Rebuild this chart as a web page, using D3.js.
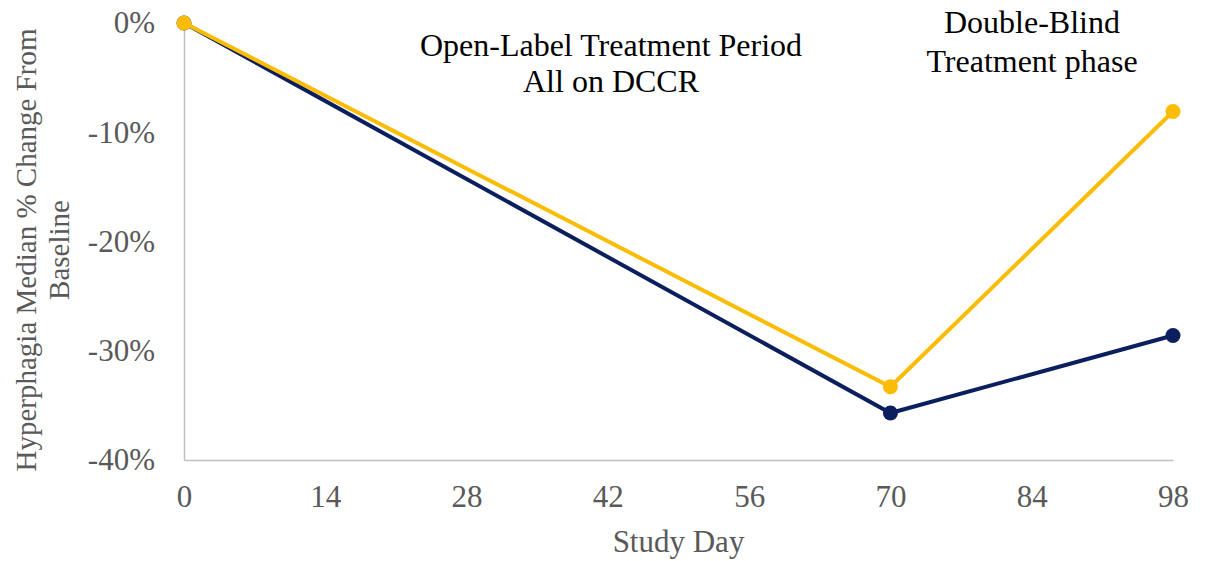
<!DOCTYPE html>
<html>
<head>
<meta charset="utf-8">
<script src="https://cdn.jsdelivr.net/npm/d3@7"></script>
<style>
  body { margin: 0; background: #fff; }
  text { font-family: "Liberation Serif", "Times New Roman", serif; }
</style>
</head>
<body>
<div id="chart"></div>
<script>
// data
const studyDays = [0, 70, 98];
const dccrValues = [0, -35.7, -28.6];      // navy line
const placeboValues = [0, -33.3, -8.1];    // orange line
const xTicks = [0, 14, 28, 42, 56, 70, 84, 98];
const yTicks = [0, -10, -20, -30, -40];

const width = 1205, height = 561;
const margin = {top: 23, right: 32, bottom: 101, left: 184};

const svg = d3.select('#chart').append('svg')
    .attr('width', width)
    .attr('height', height);

const x = d3.scaleLinear()
    .domain([0, 98])
    .range([margin.left, width - margin.right]);

const y = d3.scaleLinear()
    .domain([-40, 0])
    .range([height - margin.bottom, margin.top]);

// axes
const xAxis = svg.append('g')
    .attr('transform', 'translate(0,' + y(-40) + ')')
    .call(d3.axisBottom(x).tickValues(xTicks).tickSize(0).tickPadding(25));

const yAxis = svg.append('g')
    .attr('transform', 'translate(' + x(0) + ',0)')
    .call(d3.axisLeft(y).tickValues(yTicks).tickSize(0).tickPadding(29)
        .tickFormat(d => d + '%'));

[xAxis, yAxis].forEach(g => {
    g.select('.domain').attr('stroke', '#bfbfbf').attr('stroke-width', 1.5);
    g.selectAll('text')
        .attr('fill', '#595959')
        .style('font-size', '31px')
        .style('font-family', '"Liberation Serif", "Times New Roman", serif');
});

// axis titles
svg.append('text')
    .attr('x', (x(0) + x(98)) / 2)
    .attr('y', 552)
    .attr('text-anchor', 'middle')
    .attr('fill', '#595959')
    .style('font-size', '31px')
    .text('Study Day');

let yTitle = svg.append('text')
    .attr('transform', 'translate(36,' + 250 + ') rotate(-90)')
    .attr('text-anchor', 'middle')
    .attr('fill', '#595959')
    .style('font-size', '29px');
yTitle.append('tspan').attr('x', 0).attr('dy', 0).text('Hyperphagia Median % Change From');
yTitle.append('tspan').attr('x', 0).attr('dy', 33).text('Baseline');

// lines
const line = d3.line()
    .x((d, i) => x(studyDays[i]))
    .y(d => y(d));

const series = [
    {name: 'DCCR', values: dccrValues, color: '#0b1f5e'},
    {name: 'Placebo', values: placeboValues, color: '#fbbc04'}
];

series.forEach(s => {
    let g = svg.append('g').attr('class', 'series');
    g.append('path')
        .datum(s.values)
        .attr('d', line)
        .attr('fill', 'none')
        .attr('stroke', s.color)
        .attr('stroke-width', 4);
    g.selectAll('circle')
        .data(s.values)
        .enter().append('circle')
        .attr('cx', (d, i) => x(studyDays[i]))
        .attr('cy', d => y(d))
        .attr('r', 7.5)
        .attr('fill', s.color);
});

// annotations
const notes = [
    {lines: ['Open-Label Treatment Period', 'All on DCCR'], cx: 611, top: 56, gap: 36},
    {lines: ['Double-Blind', 'Treatment phase'], cx: 1032, top: 33, gap: 39}
];
notes.forEach(n => {
    let t = svg.append('text')
        .attr('text-anchor', 'middle')
        .attr('fill', '#000')
        .style('font-size', '32px');
    n.lines.forEach((l, i) => {
        t.append('tspan')
            .attr('x', n.cx)
            .attr('y', n.top + i * n.gap)
            .text(l);
    });
});
</script>
</body>
</html>
